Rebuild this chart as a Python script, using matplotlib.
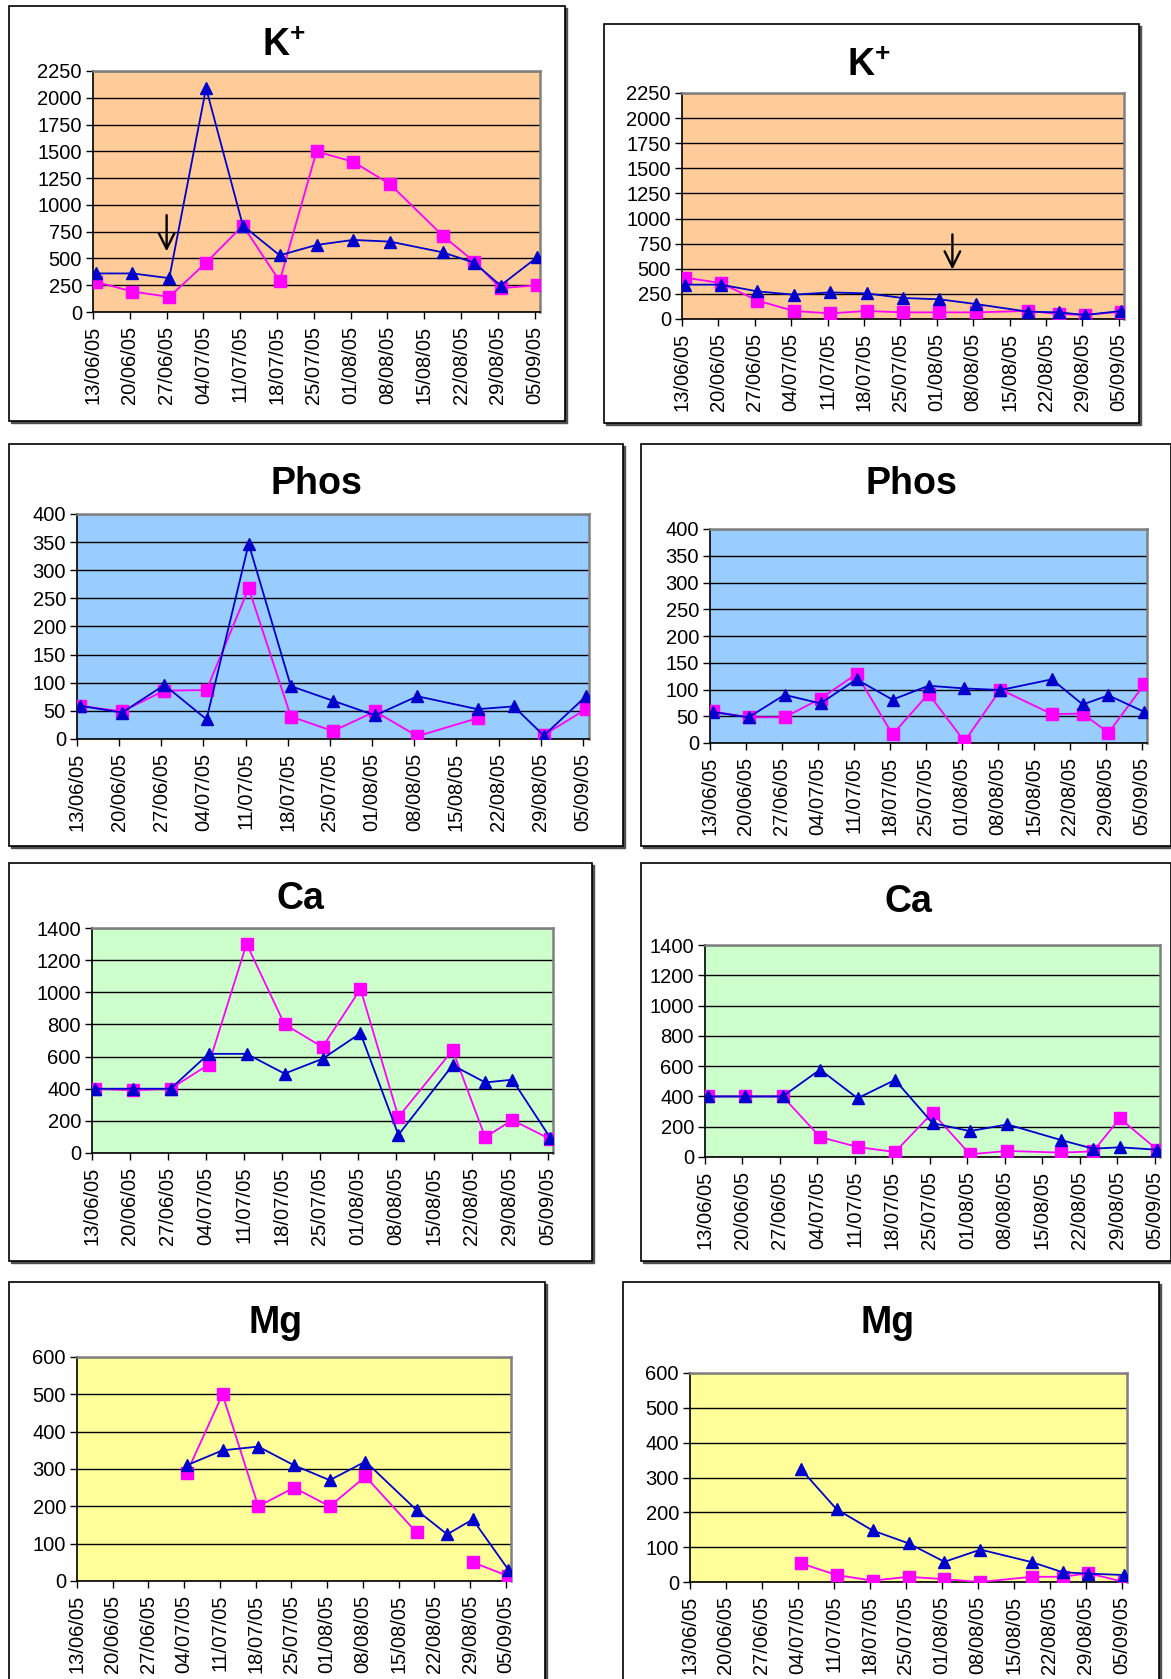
import matplotlib
matplotlib.use('Agg')
import matplotlib.pyplot as plt
import matplotlib.dates as mdates
from matplotlib.patches import Rectangle
import numpy as np
import pandas as pd

plt.rcParams['font.family'] = ['Liberation Sans', 'DejaVu Sans']
plt.rcParams['mathtext.fontset'] = 'custom'
plt.rcParams['mathtext.rm'] = 'Liberation Sans'
plt.rcParams['mathtext.bf'] = 'Liberation Sans:bold'

W, H = 1171, 1679
nan = np.nan

# sampling dates (same for every panel)
dates = pd.to_datetime(['2005-06-13', '2005-06-20', '2005-06-27', '2005-07-04',
                        '2005-07-11', '2005-07-18', '2005-07-25', '2005-08-01',
                        '2005-08-08', '2005-08-18', '2005-08-24', '2005-08-29',
                        '2005-09-05'])
tick_dates = pd.date_range('2005-06-13', '2005-09-05', freq='7D')

# K+
k_left_blue = [360, 360, 316, 2090, 807, 529, 626, 673, 657, 557, 460, 247, 513]
k_left_pink = [282, 191, 141, 460, 807, 288, 1499, 1402, 1192, 713, 469, 222, 250]
k_right_blue = [342, 342, 275, 242, 265, 255, 209, 196, 149, 73, 66, 40, 80]
k_right_pink = [412, 358, 183, 80, 56, 80, 66, 66, 66, 80, 50, 40, 73]
# Phos
phos_left_blue = [59, 47, 96, 35, 347, 94, 68, 42, 76, 53, 58, 6, 76]
phos_left_pink = [59, 49, 86, 87, 268, 40, 14, 49, 5, 37, nan, 7, 53]
phos_right_blue = [58, 48, 90, 74, 119, 81, 107, 102, 99, 119, 72, 89, 58]
phos_right_pink = [59, 48, 48, 83, 129, 16, 92, 3, 100, 54, 55, 19, 110]
# Ca
ca_left_blue = [400, 400, 400, 617, 617, 494, 586, 745, 113, 546, 439, 456, 94]
ca_left_pink = [400, 390, 400, 550, 1301, 801, 659, 1021, 224, 640, 98, 205, 86]
ca_right_blue = [400, 400, 400, 577, 388, 509, 224, 171, 215, 112, 55, 64, 48]
ca_right_pink = [400, 400, 400, 132, 66, 33, 292, 18, 40, 29, 37, 255, 48]
# Mg
mg_left_blue = [nan, nan, nan, 310, 350, 360, 310, 270, 320, 190, 125, 165, 30]
mg_left_pink = [nan, nan, nan, 290, 500, 200, 250, 200, 280, 130, nan, 50, 13]
mg_right_blue = [nan, nan, nan, 325, 209, 148, 111, 58, 93, 57, 28, 24, 20]
mg_right_pink = [nan, nan, nan, 54, 20, 4, 15, 8, 0, 15, 15, 25, 0]

# arrows on the K+ charts (date, y from, y to)
arrow_left = ('2005-06-27', 930, 540)
arrow_right = ('2005-08-04', 870, 465)

fig = plt.figure(figsize=(W / 100, H / 100), dpi=100)
fig.patch.set_facecolor('white')


def frac(l, t, r, b):
    return [l / W, 1 - b / H, (r - l) / W, (b - t) / H]


def frame(l, t, r, b):
    x, y, w, h = frac(l, t, r, b)
    sh = Rectangle((x + 2 / W, y - 2 / H), w, h, transform=fig.transFigure,
                   facecolor='#505050', edgecolor='#505050', lw=1, zorder=-3)
    fr = Rectangle((x, y), w, h, transform=fig.transFigure,
                   facecolor='white', edgecolor='black', lw=1.2, zorder=-2)
    fig.add_artist(sh)
    fig.add_artist(fr)


def panel(box, plot, title, title_xy, face, blue, pink, ymax, ystep):
    frame(*box)
    ax = fig.add_axes(frac(*plot))
    ax.set_facecolor(face)
    x = dates + pd.Timedelta(hours=12)
    ax.plot(x, pink, color='#FF00FF', lw=1.3, marker='s', ms=8.5,
            mec='#FF00FF', zorder=3)
    ax.plot(x, blue, color='#0000CC', lw=1.3, marker='^', ms=9,
            mec='#0000CC', zorder=4)
    ax.set_xlim(pd.Timestamp('2005-06-13'), pd.Timestamp('2005-09-06'))
    ax.set_ylim(0, ymax)
    ax.set_yticks(np.arange(0, ymax + 1, ystep))
    ax.set_xticks(tick_dates)
    ax.xaxis.set_major_formatter(mdates.DateFormatter('%d/%m/%y'))
    ax.yaxis.grid(True, color='black', lw=1)
    ax.set_axisbelow(True)
    for s in ['left', 'bottom']:
        ax.spines[s].set_color('black')
        ax.spines[s].set_linewidth(1.2)
    for s in ['top', 'right']:
        ax.spines[s].set_color('#808080')
        ax.spines[s].set_linewidth(1.8)
    ax.tick_params(direction='out', length=5, width=1, labelsize=14.5,
                   colors='black')
    ax.tick_params(axis='x', labelrotation=90, pad=5)
    ax.tick_params(axis='y', pad=3)
    fig.text(title_xy[0] / W, 1 - title_xy[1] / H, title, ha='center',
             va='center', fontsize=27, fontweight='bold')
    return ax


ax1 = panel((9, 6, 565, 421), (93, 71, 540, 312), r'$\mathbf{K}^{\mathbf{+}}$',
            (284, 46), '#FFCC99', k_left_blue, k_left_pink, 2250, 250)
ax2 = panel((604, 24, 1139, 423), (682, 93, 1124, 319), r'$\mathbf{K}^{\mathbf{+}}$',
            (869, 66), '#FFCC99', k_right_blue, k_right_pink, 2250, 250)
ax3 = panel((9, 444, 623, 846), (77, 514, 589, 739), 'Phos',
            (316, 484), '#99CCFF', phos_left_blue, phos_left_pink, 400, 50)
ax4 = panel((641, 444, 1171, 846), (710, 529, 1147, 743), 'Phos',
            (911, 484), '#99CCFF', phos_right_blue, phos_right_pink, 400, 50)
ax5 = panel((9, 863, 592, 1261), (92, 928, 553, 1153), 'Ca',
            (300, 899), '#CCFFCC', ca_left_blue, ca_left_pink, 1400, 200)
ax6 = panel((641, 863, 1171, 1261), (705, 945, 1160, 1157), 'Ca',
            (908, 902), '#CCFFCC', ca_right_blue, ca_right_pink, 1400, 200)
ax7 = panel((9, 1282, 545, 1700), (77, 1357, 511, 1581), 'Mg',
            (276, 1323), '#FFFF99', mg_left_blue, mg_left_pink, 600, 100)
ax8 = panel((623, 1282, 1159, 1700), (690, 1373, 1127, 1582), 'Mg',
            (888, 1323), '#FFFF99', mg_right_blue, mg_right_pink, 600, 100)

for ax, (d, y0, y1) in [(ax1, arrow_left), (ax2, arrow_right)]:
    ax.annotate('', xy=(pd.Timestamp(d), y1), xytext=(pd.Timestamp(d), y0),
                arrowprops=dict(arrowstyle='->', lw=1.7, color='black',
                                mutation_scale=28), zorder=5)

fig.savefig('out.png', dpi=100)
